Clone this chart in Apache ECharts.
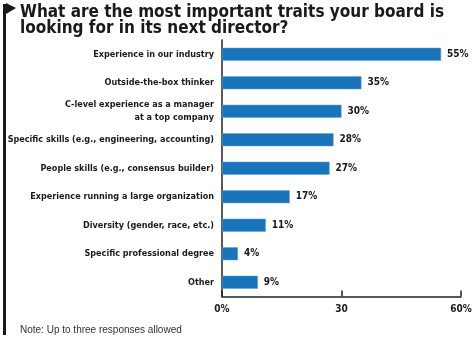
<!DOCTYPE html>
<html>
<head>
<meta charset="utf-8">
<script src="https://cdn.jsdelivr.net/npm/echarts@6/dist/echarts.min.js"></script>
<style>
html,body{margin:0;padding:0;background:#fff;}
#chart{width:475px;height:346px;}
</style>
</head>
<body>
<div id="chart"></div>
<script>
const categories = [
  "Experience in our industry",
  "Outside-the-box thinker",
  "C-level experience as a manager\nat a top company",
  "Specific skills (e.g., engineering, accounting)",
  "People skills (e.g., consensus builder)",
  "Experience running a large organization",
  "Diversity (gender, race, etc.)",
  "Specific professional degree",
  "Other"
];
const values = [55, 35, 30, 28, 27, 17, 11, 4, 9];
const tickLabels = {0: "0%", 30: "30", 60: "60%"};
const titleLines = "What are the most important traits your board is\nlooking for in its next director?";
const noteText = "Note: Up to three responses allowed";

const NARROW = "'Liberation Sans Narrow', 'DejaVu Sans Condensed', sans-serif";
const chart = echarts.init(document.getElementById('chart'), null, {renderer: 'canvas'});
chart.setOption({
  animation: false,
  backgroundColor: '#fff',
  title: [{
    text: titleLines,
    left: 20, top: 5, padding: 0,
    textStyle: {fontFamily: NARROW, fontWeight: 'bold', fontSize: 17, lineHeight: 16, color: '#1a1a1a'}
  }, {
    text: noteText,
    left: 20, top: 325, padding: 0,
    textStyle: {fontFamily: "'Liberation Sans', Arial, sans-serif", fontWeight: 'normal', fontSize: 10, color: '#333'}
  }],
  graphic: [
    {type: 'rect', shape: {x: 3, y: 4, width: 3, height: 331}, style: {fill: '#1a1a1a'}},
    {type: 'polygon', shape: {points: [[6, 3], [16, 8], [6, 14]]}, style: {fill: '#1a1a1a'}}
  ],
  grid: {left: 222, right: 14, top: 40, bottom: 49.5, containLabel: false, outerBoundsMode: 'none'},
  xAxis: {
    type: 'value', min: 0, max: 60, interval: 30,
    axisLine: {show: true, onZero: false, lineStyle: {color: '#222', width: 1.5}},
    axisTick: {show: true, inside: true, length: 6, lineStyle: {color: '#222', width: 1.5}},
    splitLine: {show: false},
    axisLabel: {
      margin: 8, fontFamily: NARROW, fontWeight: 'bold', fontSize: 10, color: '#1a1a1a',
      formatter: v => tickLabels[v] !== undefined ? tickLabels[v] : ''
    }
  },
  yAxis: {
    type: 'category', data: categories, inverse: true,
    axisLine: {show: true, lineStyle: {color: '#222', width: 1.5}},
    axisTick: {show: false},
    axisLabel: {margin: 8, fontFamily: NARROW, fontWeight: 'bold', fontSize: 9, lineHeight: 13, color: '#1a1a1a', align: 'right'}
  },
  series: [{
    type: 'bar', data: values, barWidth: 13,
    itemStyle: {color: '#1874bb', borderColor: '#5ea3d6', borderWidth: 0.5},
    label: {show: true, position: 'right', distance: 6, formatter: '{c}%',
      fontFamily: NARROW, fontWeight: 'bold', fontSize: 10, color: '#1a1a1a'}
  }]
});
</script>
</body>
</html>
